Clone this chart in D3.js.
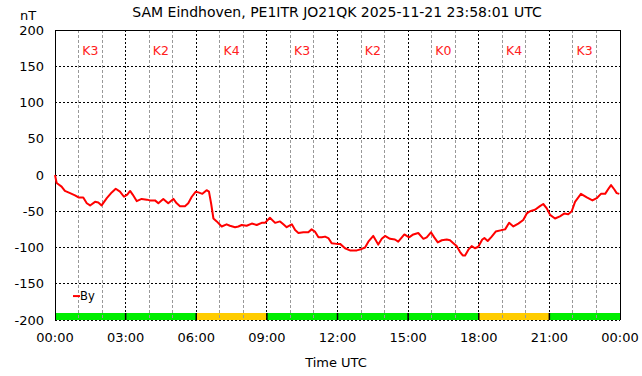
<!DOCTYPE html>
<html>
<head>
<meta charset="utf-8">
<script src="https://cdn.jsdelivr.net/npm/d3@7"></script>
<style>
  html, body { margin: 0; padding: 0; background: #fff; }
  svg { display: block; font-family: "DejaVu Sans", sans-serif; }
</style>
</head>
<body>
<div id="chart"></div>
<script>
/* ── Data ──────────────────────────────────────────────────────────────── */
const TITLE = 'SAM Eindhoven, PE1ITR JO21QK 2025-11-21 23:58:01 UTC';

// By component, time in decimal hours UTC, value in nT
const hours = [
  0.00, 0.07, 0.28, 0.42, 0.64, 0.85, 1.00, 1.20, 1.35, 1.49, 1.70, 1.84, 1.98,
  2.20, 2.41, 2.58, 2.76, 2.93, 3.07, 3.19, 3.30, 3.47, 3.68, 3.90, 4.03, 4.25,
  4.39, 4.60, 4.81, 5.03, 5.17, 5.31, 5.52, 5.66, 5.81, 5.98, 6.09, 6.26, 6.44,
  6.54, 6.63, 6.73, 6.87, 7.08, 7.29, 7.43, 7.65, 7.79, 7.93, 8.14, 8.36, 8.57,
  8.78, 8.92, 9.13, 9.35, 9.56, 9.70, 9.84, 10.06, 10.20, 10.34, 10.55, 10.76,
  10.90, 11.04, 11.19, 11.33, 11.47, 11.61, 11.75, 11.97, 12.11, 12.32, 12.53,
  12.82, 13.03, 13.17, 13.31, 13.52, 13.73, 13.88, 14.02, 14.23, 14.44, 14.58,
  14.84, 15.04, 15.22, 15.43, 15.65, 15.79, 15.97, 16.11, 16.26, 16.43, 16.64,
  16.78, 16.92, 17.06, 17.20, 17.32, 17.42, 17.56, 17.70, 17.84, 17.98, 18.15,
  18.24, 18.38, 18.55, 18.72, 18.97, 19.12, 19.29, 19.47, 19.68, 19.89, 20.04,
  20.18, 20.39, 20.60, 20.74, 20.89, 21.03, 21.24, 21.45, 21.64, 21.80, 21.95,
  22.09, 22.34, 22.59, 22.83, 23.01, 23.19, 23.37, 23.53, 23.62, 23.76, 23.86,
  23.97
];
const byValues = [
  0, -11, -16, -22, -25, -28, -31, -31, -39, -42, -37, -38, -42,
  -32, -24, -19, -23, -30, -27, -22, -27, -36, -33, -34, -35, -35,
  -39, -33, -39, -33, -39, -43, -43, -39, -30, -23, -24, -26, -21,
  -23, -39, -60, -64, -71, -68, -70, -72, -71, -69, -70, -67, -69,
  -66, -66, -59, -66, -64, -68, -72, -68, -76, -80, -79, -79,
  -75, -78, -86, -86, -85, -87, -94, -95, -95, -101, -104,
  -104, -102, -100, -92, -84, -96, -88, -84, -88, -89, -92,
  -82, -86, -82, -80, -88, -86, -79, -86, -93, -90, -89,
  -90, -94, -98, -106, -111, -111, -103, -98, -101, -99, -89,
  -87, -91, -85, -78, -76, -75, -66, -71, -67, -62, -53,
  -50, -48, -43, -40, -46, -55, -60, -57, -53, -54, -50,
  -37, -26, -31, -35, -32, -26, -26, -18, -14, -20, -25,
  -26
];

// K-index per 3-hour block
const kIndex = [3, 2, 4, 3, 2, 0, 4, 3];
const xTickLabels = ['00:00', '03:00', '06:00', '09:00', '12:00', '15:00', '18:00', '21:00', '00:00'];
const yTicks = [200, 150, 100, 50, 0, -50, -100, -150, -200];

/* ── Layout ────────────────────────────────────────────────────────────── */
const TW = 642, TH = 376;
const M = { top: 30, right: 22, bottom: 56, left: 55 };
const W = TW - M.left - M.right;
const H = TH - M.top - M.bottom;

const x = d3.scaleLinear().domain([0, 24]).range([0, W]);
const y = d3.scaleLinear().domain([-200, 200]).range([H, 0]);

const svg = d3.select('#chart').append('svg')
  .attr('width', TW).attr('height', TH);

// Title and unit
svg.append('text')
  .attr('x', 337).attr('y', 17)
  .attr('text-anchor', 'middle')
  .attr('font-size', 14)
  .attr('fill', '#000')
  .text(TITLE);

svg.append('text')
  .attr('x', 28).attr('y', 20)
  .attr('text-anchor', 'middle')
  .attr('font-size', 13)
  .text('nT');

const g = svg.append('g').attr('transform', `translate(${M.left},${M.top})`);

/* ── K-index bars along the bottom ─────────────────────────────────────── */
const barH = 7;
g.selectAll('rect.kbar')
  .data(kIndex)
  .join('rect')
  .attr('class', 'kbar')
  .attr('x', (d, i) => x(i * 3))
  .attr('y', H - barH)
  .attr('width', x(3) - x(0))
  .attr('height', barH)
  .attr('fill', d => d >= 4 ? '#ffcc00' : '#00ee00');

/* ── Grid ──────────────────────────────────────────────────────────────── */
const hourTicks = d3.range(1, 24);
g.selectAll('line.vgrid')
  .data(hourTicks)
  .join('line')
  .attr('class', 'vgrid')
  .attr('x1', d => x(d)).attr('x2', d => x(d))
  .attr('y1', 0).attr('y2', H)
  .attr('stroke', d => d % 3 === 0 ? '#000' : '#999')
  .attr('stroke-width', 1)
  .attr('stroke-dasharray', d => d % 3 === 0 ? '2,2' : '3,2')
  .attr('shape-rendering', 'crispEdges');

g.selectAll('line.hgrid')
  .data(yTicks.slice(1))
  .join('line')
  .attr('class', 'hgrid')
  .attr('x1', 0).attr('x2', W)
  .attr('y1', d => y(d)).attr('y2', d => y(d))
  .attr('stroke', '#000')
  .attr('stroke-dasharray', '2,2')
  .attr('shape-rendering', 'crispEdges');

// Solid separators between K blocks
g.selectAll('line.ksep')
  .data(d3.range(1, 8))
  .join('line')
  .attr('class', 'ksep')
  .attr('x1', d => x(d * 3)).attr('x2', d => x(d * 3))
  .attr('y1', H - barH).attr('y2', H)
  .attr('stroke', '#000')
  .attr('stroke-width', 1.5);

// Frame
g.append('path')
  .attr('d', `M0,${H}V0H${W}V${H}`)
  .attr('fill', 'none')
  .attr('stroke', '#000')
  .attr('shape-rendering', 'crispEdges');

/* ── K labels ──────────────────────────────────────────────────────────── */
g.selectAll('text.klabel')
  .data(kIndex)
  .join('text')
  .attr('class', 'klabel')
  .attr('x', (d, i) => x(i * 3 + 1.5))
  .attr('y', 24.5)
  .attr('text-anchor', 'middle')
  .attr('font-size', 12.5)
  .attr('fill', '#ff2020')
  .text(d => 'K' + d);

/* ── Axes labels ───────────────────────────────────────────────────────── */
g.selectAll('text.ytick')
  .data(yTicks)
  .join('text')
  .attr('class', 'ytick')
  .attr('x', -11)
  .attr('y', d => y(d))
  .attr('dy', '0.36em')
  .attr('text-anchor', 'end')
  .attr('font-size', 13)
  .text(d => d);

g.selectAll('text.xtick')
  .data(xTickLabels)
  .join('text')
  .attr('class', 'xtick')
  .attr('x', (d, i) => x(i * 3))
  .attr('y', H + 22)
  .attr('text-anchor', 'middle')
  .attr('font-size', 13)
  .text(d => d);

svg.append('text')
  .attr('x', 336).attr('y', 367)
  .attr('text-anchor', 'middle')
  .attr('font-size', 13)
  .text('Time UTC');

/* ── By line ───────────────────────────────────────────────────────────── */
const series = hours.map((h, i) => ({ h, v: byValues[i] }));
const line = d3.line().x(d => x(d.h)).y(d => y(d.v));

g.append('path')
  .datum(series)
  .attr('d', line)
  .attr('fill', 'none')
  .attr('stroke', '#ff0000')
  .attr('stroke-width', 2)
  .attr('stroke-linejoin', 'round');

/* ── Legend ────────────────────────────────────────────────────────────── */
const leg = g.append('g').attr('transform', `translate(18,${y(-167)})`);
leg.append('line')
  .attr('x1', 0).attr('x2', 7)
  .attr('stroke', '#ff0000').attr('stroke-width', 2);
leg.append('text')
  .attr('x', 7).attr('dy', '0.36em')
  .attr('font-size', 11.5)
  .text('By');
</script>
</body>
</html>
